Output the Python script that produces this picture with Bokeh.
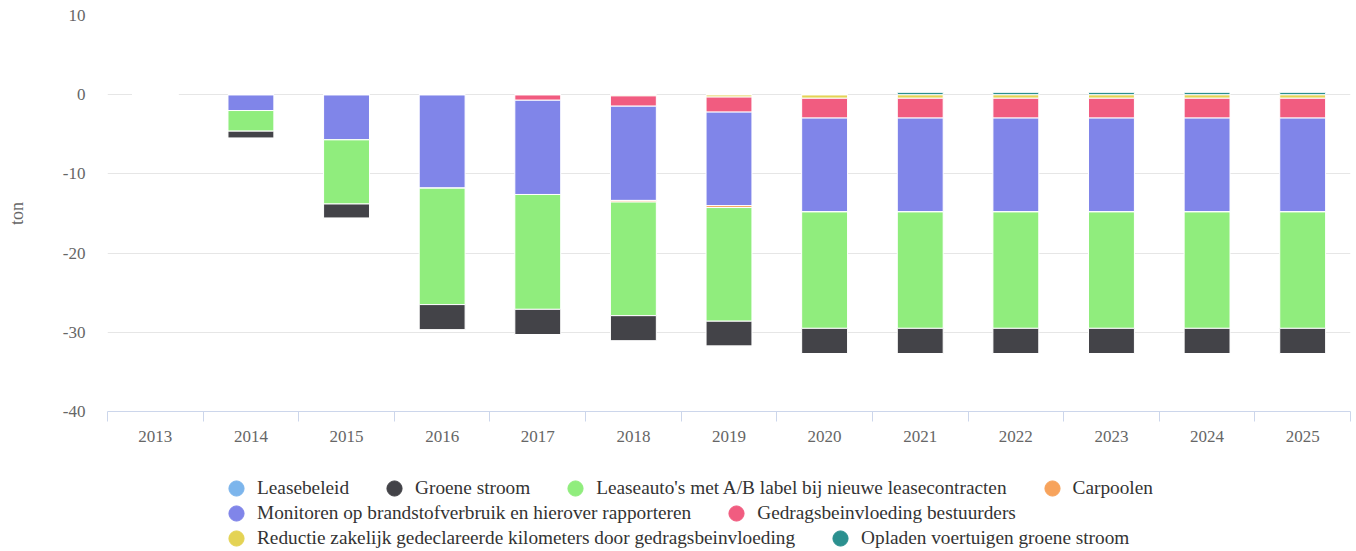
from bokeh.plotting import figure
from bokeh.layouts import column
from bokeh.models import Legend, LegendItem, FixedTicker, Range1d, ColumnDataSource
from bokeh.embed import file_html
from bokeh.resources import INLINE

years = ["2013", "2014", "2015", "2016", "2017", "2018", "2019",
         "2020", "2021", "2022", "2023", "2024", "2025"]
leasebeleid = [0, 0, 0, 0, 0, 0, 0, 0, 0, 0, 0, 0, 0]
groene_stroom = [0, -0.9, -1.8, -3.2, -3.2, -3.2, -3.15, -3.2, -3.2, -3.2, -3.2, -3.2, -3.2]
leaseautos = [0, -2.6, -8.1, -14.7, -14.5, -14.35, -14.35, -14.7, -14.7, -14.7, -14.7, -14.7, -14.7]
carpoolen = [0, 0, 0, 0, 0, -0.2, -0.25, 0, 0, 0, 0, 0, 0]
monitoren = [0, -2.0, -5.7, -11.8, -11.9, -11.9, -11.8, -11.85, -11.85, -11.85, -11.85, -11.85, -11.85]
gedrag = [0, 0, 0, 0, -0.7, -1.3, -1.9, -2.5, -2.5, -2.5, -2.5, -2.5, -2.5]
reductie = [0, 0, 0, 0, 0, -0.15, -0.3, -0.45, -0.45, -0.45, -0.45, -0.45, -0.45]
opladen = [0, 0, 0, 0, 0, 0, 0, 0, 0.3, 0.3, 0.3, 0.3, 0.3]
y_ticks = [-40, -30, -20, -10, 0, 10]

names = {
    "leasebeleid": "Leasebeleid",
    "groene_stroom": "Groene stroom",
    "leaseautos": "Leaseauto's met A/B label bij nieuwe leasecontracten",
    "carpoolen": "Carpoolen",
    "monitoren": "Monitoren op brandstofverbruik en hierover rapporteren",
    "gedrag": "Gedragsbeinvloeding bestuurders",
    "reductie": "Reductie zakelijk gedeclareerde kilometers door gedragsbeinvloeding",
    "opladen": "Opladen voertuigen groene stroom",
}
colors = {
    "leasebeleid": "#7cb5ec",
    "groene_stroom": "#434348",
    "leaseautos": "#90ed7d",
    "carpoolen": "#f7a35c",
    "monitoren": "#8085e9",
    "gedrag": "#f15c80",
    "reductie": "#e4d354",
    "opladen": "#2b908f",
}

xs = list(range(len(years)))
src = ColumnDataSource(dict(
    x=xs, leasebeleid=leasebeleid, groene_stroom=groene_stroom, leaseautos=leaseautos,
    carpoolen=carpoolen, monitoren=monitoren, gedrag=gedrag, reductie=reductie, opladen=opladen))

FONT = "Liberation Serif"

p = figure(width=1356, height=451, output_backend="svg", toolbar_location=None,
           x_range=Range1d(-0.5, len(years) - 0.5), y_range=Range1d(-40, 10),
           min_border_left=107, min_border_right=6, min_border_top=15, min_border_bottom=40)
p.outline_line_color = None
p.background_fill_color = "white"

stack_order = ["reductie", "gedrag", "monitoren", "carpoolen", "leaseautos", "groene_stroom", "leasebeleid"]
p.vbar_stack(stack_order, x="x", width=0.48, source=src,
             fill_color=[colors[k] for k in stack_order],
             line_color="white", line_width=1)
p.vbar(x="x", top="opladen", bottom=0, width=0.48, source=src,
       fill_color=colors["opladen"], line_color="white", line_width=1)

# axes
p.xgrid.visible = False
p.ygrid.grid_line_color = "#e6e6e6"
p.ygrid.grid_line_width = 1

xa = p.xaxis[0]
xa.ticker = FixedTicker(ticks=xs, minor_ticks=[i - 0.5 for i in range(len(years) + 1)])
xa.major_label_overrides = {i: y for i, y in zip(xs, years)}
xa.axis_line_color = "#ccd6eb"
xa.major_tick_out = 0
xa.major_tick_in = 0
xa.minor_tick_out = 10
xa.minor_tick_in = 0
xa.minor_tick_line_color = "#ccd6eb"
xa.major_label_text_font = FONT
xa.major_label_text_font_size = "17px"
xa.major_label_text_color = "#666666"
xa.major_label_standoff = 9

ya = p.yaxis[0]
ya.ticker = FixedTicker(ticks=y_ticks)
ya.major_label_overrides = {t: str(t) for t in y_ticks}
ya.axis_line_color = None
ya.major_tick_line_color = None
ya.minor_tick_line_color = None
ya.major_tick_out = 0
ya.major_label_standoff = 22
ya.major_label_text_font = FONT
ya.major_label_text_font_size = "17px"
ya.major_label_text_color = "#666666"
ya.axis_label = "ton"
ya.axis_label_text_font = FONT
ya.axis_label_text_font_size = "18px"
ya.axis_label_text_font_style = "normal"
ya.axis_label_text_color = "#666666"
ya.axis_label_standoff = 33

# legend panel
lp = figure(width=1356, height=100, output_backend="svg", toolbar_location=None,
            x_range=Range1d(0, 1), y_range=Range1d(0, 1),
            x_axis_location=None, y_axis_location=None,
            min_border_left=0, min_border_right=0, min_border_top=0, min_border_bottom=0)
lp.outline_line_color = None
lp.grid.visible = False

marker_r = {}
for k in names:
    marker_r[k] = lp.scatter(x=[-5], y=[-5], marker="circle", size=15,
                             fill_color=colors[k], line_color=colors[k])

rows = [
    ["leasebeleid", "groene_stroom", "leaseautos", "carpoolen"],
    ["monitoren", "gedrag"],
    ["reductie", "opladen"],
]
for ri, row in enumerate(rows):
    lg = Legend(items=[LegendItem(label=names[k], renderers=[marker_r[k]]) for k in row],
                orientation="horizontal", location=(110, 44 - 25 * ri))
    lg.border_line_color = None
    lg.background_fill_alpha = 0
    lg.label_text_font = FONT
    lg.label_text_font_size = "19.3px"
    lg.label_text_color = "#333333"
    lg.glyph_width = 38
    lg.glyph_height = 38
    lg.label_height = 18
    lg.label_standoff = 2
    lg.spacing = 26
    lg.padding = 3
    lg.margin = 0
    lp.add_layout(lg)

layout = column(p, lp, spacing=0)
open("out.html", "w").write(file_html(layout, INLINE))
